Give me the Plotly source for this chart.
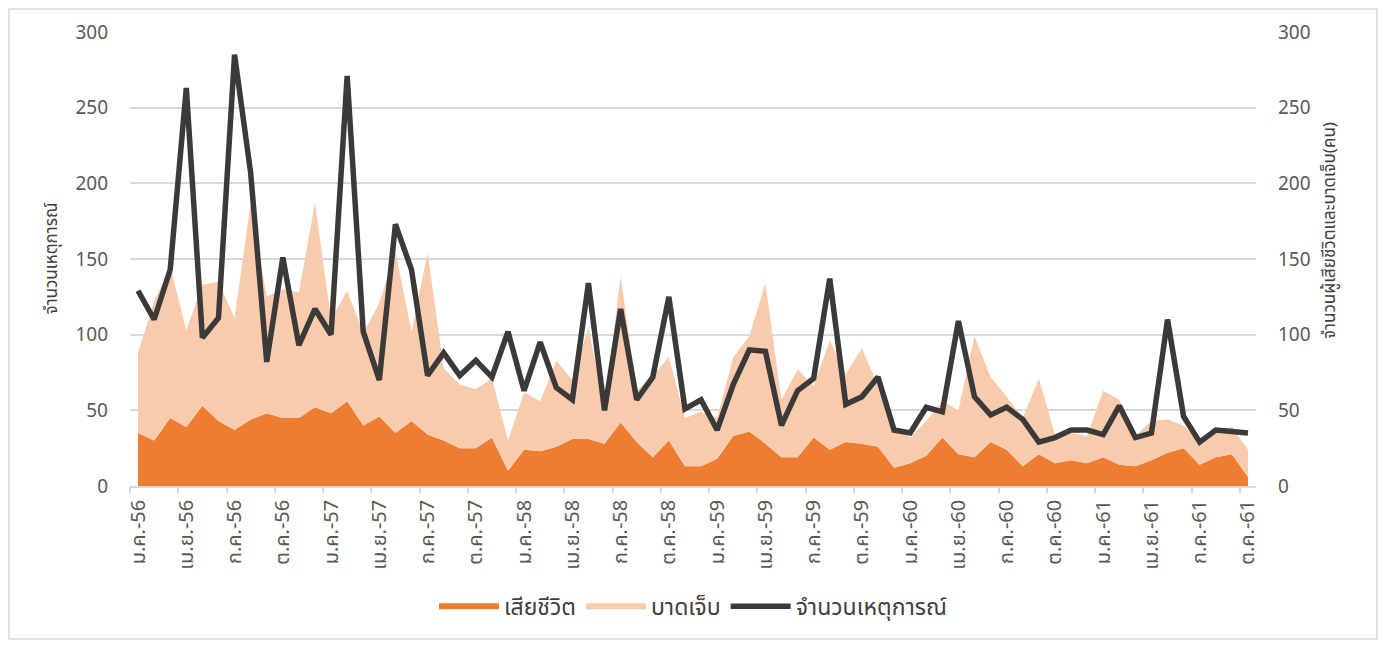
import plotly.graph_objects as go

# ---- data (monthly, ม.ค.-56 .. ต.ค.-61) ----
thai_months = ["ม.ค.", "ก.พ.", "มี.ค.", "เม.ย.", "พ.ค.", "มิ.ย.",
               "ก.ค.", "ส.ค.", "ก.ย.", "ต.ค.", "พ.ย.", "ธ.ค."]
years = ["56", "57", "58", "59", "60", "61"]
n_months = 70

events = [129, 110, 143, 263, 98, 111, 285, 207, 82, 151, 93, 117, 100, 271, 102, 70,
          173, 143, 73, 88, 73, 83, 72, 102, 63, 95, 65, 57, 134, 50, 117, 57,
          72, 125, 51, 57, 37, 67, 90, 89, 40, 63, 71, 137, 54, 59, 72, 37,
          35, 52, 49, 109, 59, 47, 52, 44, 29, 32, 37, 37, 34, 53, 32, 35,
          110, 46, 29, 37, 36, 35]

deaths = [35, 30, 45, 39, 53, 43, 37, 44, 48, 45, 45, 52, 48, 56, 40, 46,
          35, 43, 34, 30, 25, 25, 32, 10, 24, 23, 26, 31, 31, 28, 42, 29,
          19, 30, 13, 13, 18, 33, 36, 28, 19, 19, 32, 24, 29, 28, 26, 12,
          15, 20, 32, 21, 19, 29, 24, 13, 21, 15, 17, 15, 19, 14, 13, 17,
          22, 25, 14, 19, 21, 6]

injured = [53, 92, 100, 64, 80, 92, 74, 143, 77, 85, 83, 135, 62, 73, 61, 75,
           120, 59, 120, 48, 42, 39, 39, 20, 38, 33, 57, 39, 74, 22, 97, 34,
           54, 55, 32, 36, 27, 52, 63, 106, 38, 58, 34, 72, 45, 63, 40, 27,
           17, 23, 24, 29, 80, 43, 35, 32, 50, 19, 18, 18, 44, 43, 20, 26,
           22, 15, 16, 17, 18, 18]

labels = [f"{thai_months[k % 12]}-{years[k // 12]}" for k in range(n_months)]
x = list(range(n_months))
label_idx = list(range(0, n_months, 3))
boundary_ticks = [k - 0.5 for k in label_idx]

ORANGE = "#ED7D31"
PEACH = "#F8CBAD"
DARK = "#3B3A39"
GRID = "#D9D9D9"
TXT = "#595959"
FONT = "Noto Sans Thai, Noto Sans, Lato, sans-serif"

fig = go.Figure()
fig.add_trace(go.Scatter(x=x, y=deaths, name="เสียชีวิต", stackgroup="one",
                         mode="none", fillcolor=ORANGE))
fig.add_trace(go.Scatter(x=x, y=injured, name="บาดเจ็บ", stackgroup="one",
                         mode="none", fillcolor=PEACH))
fig.add_trace(go.Scatter(x=x, y=events, name="จำนวนเหตุการณ์", mode="lines",
                         line=dict(color=DARK, width=5.5)))
# right axis carries the same 0-300 scale
fig.add_trace(go.Scatter(x=x, y=events, yaxis="y2", xaxis="x2", mode="lines",
                         line=dict(width=0), showlegend=False, hoverinfo="skip",
                         opacity=0))

fig.update_layout(
    width=1370, height=632,
    margin=dict(l=122, r=122, t=24, b=154, autoexpand=False),
    paper_bgcolor="white", plot_bgcolor="white",
    font=dict(family=FONT, size=16, color=TXT),
    showlegend=True,
    legend=dict(orientation="h", x=0.5, xanchor="center", y=-0.265, yanchor="middle",
                font=dict(size=23, color="#404040"), itemwidth=60,
                traceorder="normal"),
    xaxis=dict(range=[-0.5, n_months - 0.5], tickmode="array",
               tickvals=label_idx, ticktext=[labels[k] for k in label_idx],
               tickangle=-90, ticks="", showgrid=False, zeroline=False,
               showline=True, linecolor=GRID, linewidth=1.5, automargin=False,
               ticklabelstandoff=4,
               tickfont=dict(size=20, color=TXT)),
    xaxis2=dict(range=[-0.5, n_months - 0.5], overlaying="x", anchor="y",
                tickmode="array", tickvals=boundary_ticks, ticks="outside",
                ticklen=6, tickcolor=GRID, tickwidth=1.5, automargin=False,
                showticklabels=False, showgrid=False, zeroline=False),
    yaxis=dict(range=[0, 300], dtick=50, showgrid=True, gridcolor=GRID, gridwidth=1.5,
               zeroline=False, showline=False, ticks="", automargin=False,
               ticklabelstandoff=21,
               tickfont=dict(size=19, color=TXT)),
    yaxis2=dict(range=[0, 300], dtick=50, overlaying="y", side="right", anchor="x",
                showgrid=False, zeroline=False, showline=False, ticks="",
                automargin=False, ticklabelstandoff=21,
                tickfont=dict(size=19, color=TXT)),
    annotations=[
        dict(text="จำนวนเหตุการณ์", xref="paper", yref="paper",
             x=-0.069, y=0.502, xanchor="center", yanchor="middle",
             textangle=-90, showarrow=False, font=dict(size=17, color="#404040")),
        dict(text="จำนวนผู้เสียชีวิตและบาดเจ็บ(คน)", xref="paper", yref="paper",
             x=1.0657, y=0.564, xanchor="center", yanchor="middle",
             textangle=-90, showarrow=False, font=dict(size=17, color="#404040")),
    ],
    shapes=[dict(type="rect", xref="paper", yref="paper",
                 x0=-0.1075, x1=1.1074, y0=-0.337, y1=1.0507,
                 line=dict(color=GRID, width=1.5), layer="below")],
)

fig.write_html("out.html")
